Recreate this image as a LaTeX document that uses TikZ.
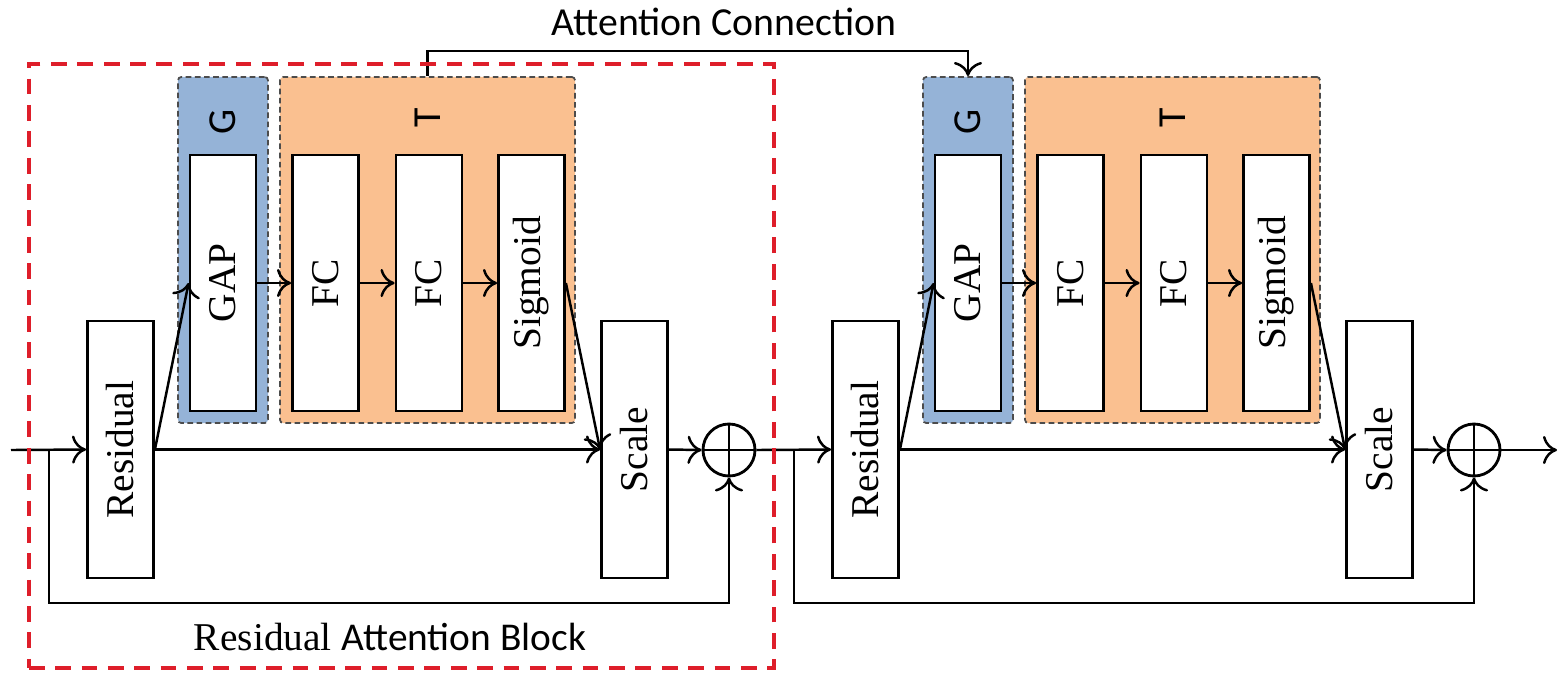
\documentclass[tikz,border=0pt]{standalone}
\usepackage{fontspec}
\setmainfont{Liberation Serif}
\newfontfamily\carlfont{Carlito}
\usetikzlibrary{arrows.meta}
\definecolor{gblue}{RGB}{149,179,215}
\definecolor{torange}{RGB}{250,192,144}
\definecolor{rabred}{RGB}{222,30,42}
\tikzset{
 blk/.style={draw, line width=0.8pt, fill=white, minimum width=0.66cm, minimum height=2.56cm, inner sep=0pt, font=\fontsize{11.2}{13}\selectfont},
 grp/.style={draw=black!70, dash pattern=on 1.6pt off 1pt, line width=0.5pt, rounded corners=1pt, inner sep=0pt, minimum height=3.46cm},
 lbl/.style={font=\carlfont\fontsize{11.3}{13}\selectfont},
 conn/.style={line width=0.7pt, -{To[length=4pt,width=8pt]}},
 plainline/.style={line width=0.7pt},
 sumnode/.style={circle, draw, line width=0.8pt, minimum size=0.52cm, inner sep=0pt},
}
\begin{document}
\begin{tikzpicture}[x=0.01cm,y=-0.01cm]
\useasboundingbox (0,0) rectangle (1558,672);

% ---------- block 1 ----------
\node[grp, fill=gblue, minimum width=0.90cm] (G1) at (223,250) {};
\node[grp, fill=torange, minimum width=2.95cm] (T1) at (427.5,250) {};
\node[lbl] (G1l) at (223,122) {\rotatebox{90}{G}};
\node[lbl] (T1l) at (427.5,118) {\rotatebox{90}{T}};
\node[blk] (GAP1) at (223,283) {\rotatebox{90}{GAP}};
\node[blk] (FCa1) at (325.5,283) {\rotatebox{90}{FC}};
\node[blk] (FCb1) at (429,283) {\rotatebox{90}{FC}};
\node[blk] (Sig1) at (531.5,283) {\rotatebox{90}{Sigmoid}};
\node[blk, minimum height=2.57cm] (Res1) at (120.5,449.5) {\rotatebox{90}{Residual}};
\node[blk, minimum height=2.57cm] (Sca1) at (634.5,449.5) {\rotatebox{90}{Scale}};
\node[sumnode] (Sum1) at (729,450) {};
\draw[plainline] (Sum1.north) -- (Sum1.south) (Sum1.west) -- (Sum1.east);

% ---------- block 2 ----------
\node[grp, fill=gblue, minimum width=0.90cm] (G2) at (968,250) {};
\node[grp, fill=torange, minimum width=2.95cm] (T2) at (1172.5,250) {};
\node[lbl] (G2l) at (968,122) {\rotatebox{90}{G}};
\node[lbl] (T2l) at (1172.5,118) {\rotatebox{90}{T}};
\node[blk] (GAP2) at (968,283) {\rotatebox{90}{GAP}};
\node[blk] (FCa2) at (1070.5,283) {\rotatebox{90}{FC}};
\node[blk] (FCb2) at (1174,283) {\rotatebox{90}{FC}};
\node[blk] (Sig2) at (1276.5,283) {\rotatebox{90}{Sigmoid}};
\node[blk, minimum height=2.57cm] (Res2) at (865.5,449.5) {\rotatebox{90}{Residual}};
\node[blk, minimum height=2.57cm] (Sca2) at (1379.5,449.5) {\rotatebox{90}{Scale}};
\node[sumnode] (Sum2) at (1474,450) {};
\draw[plainline] (Sum2.north) -- (Sum2.south) (Sum2.west) -- (Sum2.east);

% ---------- coordinates ----------
\coordinate (in) at (11,450);
\coordinate (sk1) at (49,450);
\coordinate (sk2) at (794,450);
\coordinate (out) at (1557,450);

% ---------- connectors block 1 ----------
\draw[conn] (in) -- (Res1.west);
\draw[conn] (Res1.east) -- (Sca1.west);
\draw[conn] (Res1.east) -- (GAP1.west);
\draw[conn] (GAP1.east) -- (FCa1.west);
\draw[conn] (FCa1.east) -- (FCb1.west);
\draw[conn] (FCb1.east) -- (Sig1.west);
\draw[conn] (Sig1.east) -- (Sca1.west);
\draw[conn] (Sca1.east) -- (Sum1.west);
\draw[conn] (sk1) -- ++(0,153) -| (Sum1.south);
\draw[conn] (Sum1.east) -- (Res2.west);

% ---------- connectors block 2 ----------
\draw[conn] (Res2.east) -- (Sca2.west);
\draw[conn] (Res2.east) -- (GAP2.west);
\draw[conn] (GAP2.east) -- (FCa2.west);
\draw[conn] (FCa2.east) -- (FCb2.west);
\draw[conn] (FCb2.east) -- (Sig2.west);
\draw[conn] (Sig2.east) -- (Sca2.west);
\draw[conn] (Sca2.east) -- (Sum2.west);
\draw[conn] (sk2) -- ++(0,153) -| (Sum2.south);
\draw[conn] (Sum2.east) -- (out);

% ---------- attention connection ----------
\draw[conn] (T1.north) -- ++(0,-25) -| (G2.north);
\node[lbl] (attn) at (724,22) {Attention Connection};

% ---------- residual attention block ----------
\node[draw=rabred, line width=1.2pt, dash pattern=on 4.5pt off 3pt, minimum width=7.45cm, minimum height=6.04cm, inner sep=0pt] (rab) at (401.5,366) {};
\node[font=\fontsize{11.2}{13}\selectfont] (cap) at (390,637) {Residual {\carlfont Attention Block}};
\end{tikzpicture}
\end{document}
